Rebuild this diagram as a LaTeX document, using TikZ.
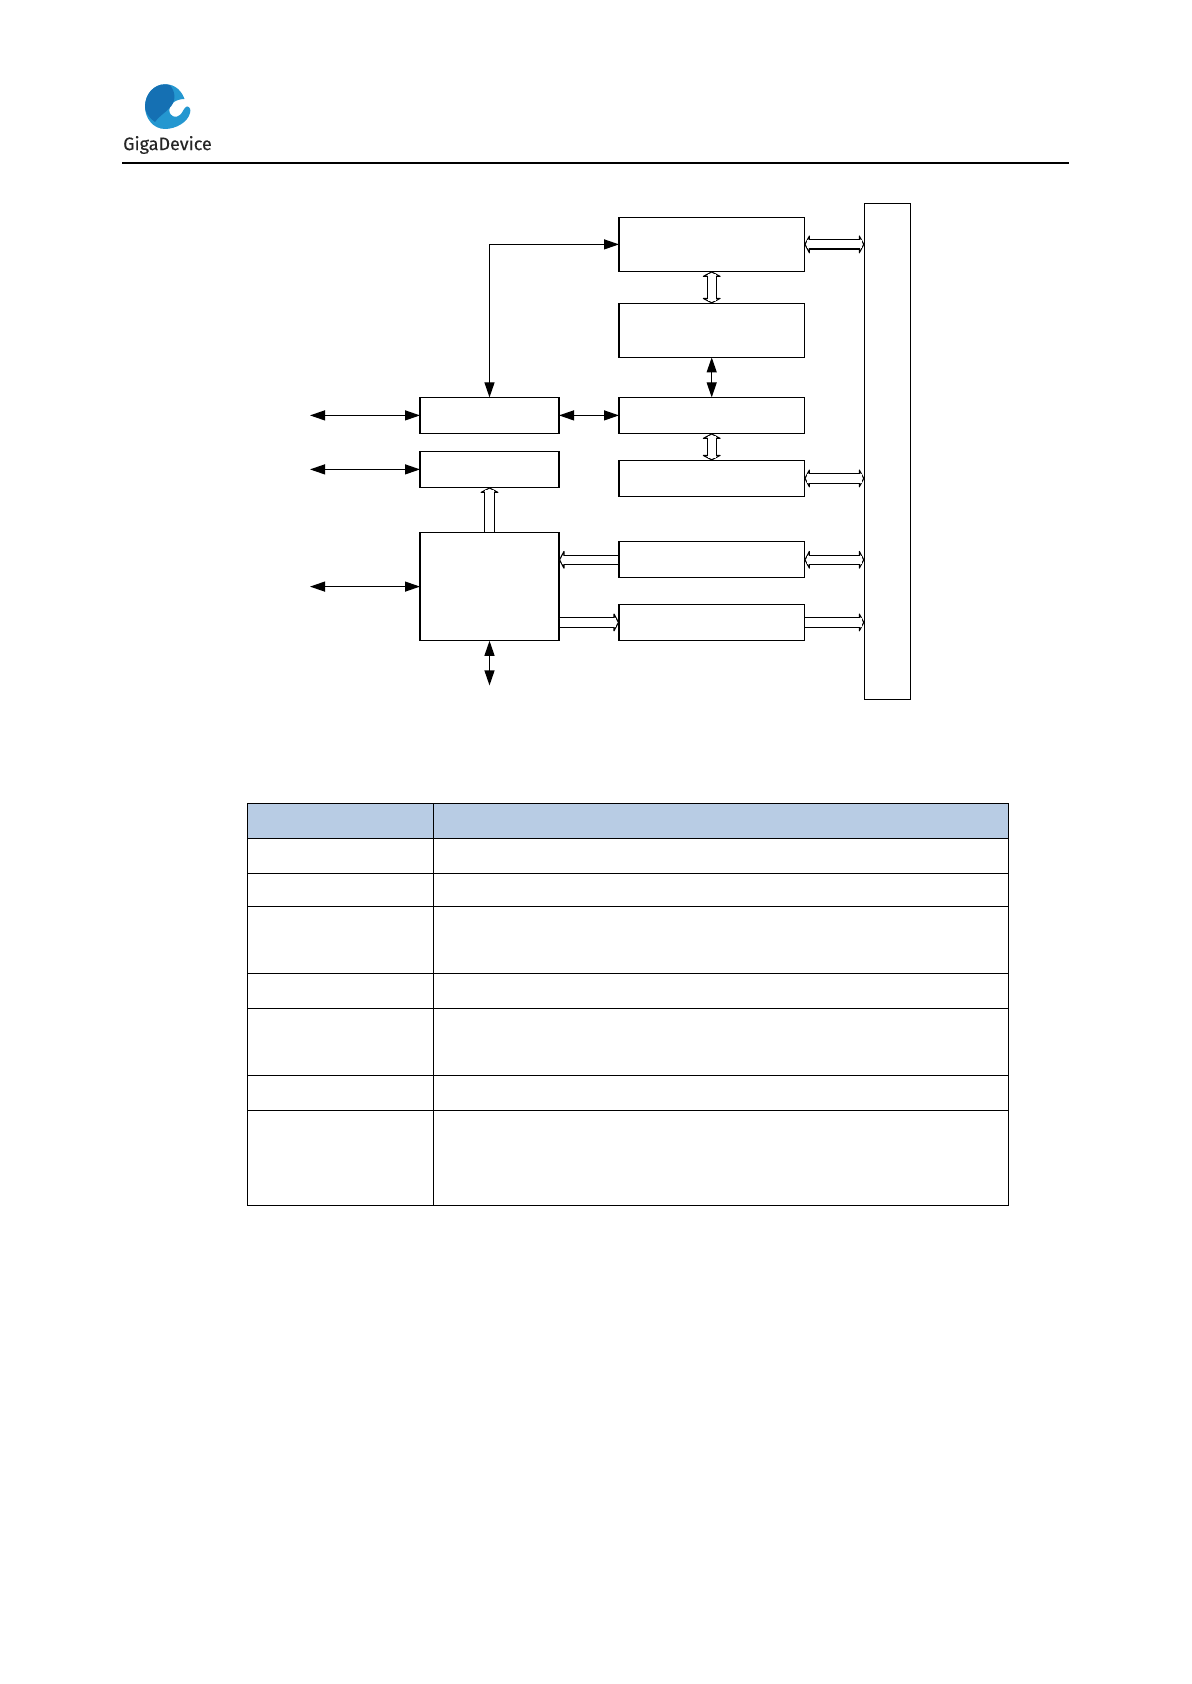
\documentclass[tikz,border=0pt]{standalone}
\usepackage{fontspec}
\usepackage{xcolor}
\usetikzlibrary{arrows.meta, positioning, calc}
\newfontfamily\logofont[FakeBold=0.3]{Fira Sans}
\definecolor{logodark}{HTML}{1570B3}
\definecolor{logolight}{HTML}{2497D0}
\definecolor{headblue}{HTML}{B8CCE4}

\begin{document}
\begin{tikzpicture}[
    x=0.5pt, y=-0.5pt,
    node distance=30pt,
    solidtip/.tip={Triangle[length=7.5pt,width=5pt]},
    bustip/.tip={Triangle[length=2.8pt,width=10.5pt,fill=white,line width=0.55pt,round]},
    block/.style={rectangle, draw, line width=0.6pt, inner sep=0pt, outer sep=0pt, minimum width=92.7pt, minimum height=18pt},
    tallblock/.style={block, minimum height=27pt},
    leftblock/.style={block, minimum width=69.5pt},
    arrow/.style={line width=0.6pt, solidtip-solidtip},
    bus/.style={line width=5.2pt, bustip-bustip,
      postaction={draw=white, line width=4.1pt, arrows=-, shorten >=1.3pt, shorten <=1.3pt}},
    onebus/.style={line width=5.2pt, -bustip,
      postaction={draw=white, line width=4.1pt, arrows=-, shorten >=1.3pt, shorten <=0.3pt}},
    grid/.style={line width=0.65pt}
  ]
  \useasboundingbox (0,0) rectangle (1191,1684);

  % page header
  \fill [logolight] (165,84.3) .. controls (176,84) and (182,92) .. (184.5,99) .. controls (176,99) and (169,104) .. (169.3,110) .. controls (169.5,117) and (176,118.5) .. (180,115) .. controls (183,112.5) and (184,107) .. (187,106.5) .. controls (190,106.5) and (191,110) .. (190,113) .. controls (188,122) and (176,129) .. (165,129) .. controls (153,129) and (145,118) .. (145,106.7) .. controls (145,94) and (154,84.3) .. (165,84.3) -- cycle;
  \fill [logodark] (170,85.3) .. controls (176,92) and (176,102) .. (169.5,108) .. controls (165,113) and (158,117) .. (155,122) .. controls (149,118) and (145,112) .. (145,106.7) .. controls (145,94) and (154,84.3) .. (165,84.3) .. controls (167,84.3) and (168.5,84.7) .. (170,85.3) -- cycle;
  \node (logotext) at (167.5,145) [font=\logofont\fontsize{9pt}{10pt}\selectfont, text=black!85, inner sep=0pt] {GigaDevice};
  \draw [line width=1pt] (122,163.5) -- (1069,163.5);

  % blocks
  \node (sys) at (887.5,451.3) [block, minimum width=23.2pt, minimum height=248pt] {};
  \node (b1) at (711.7,244.4) [tallblock] {};
  \node (b2) [tallblock, below=16pt of b1] {};
  \node (b3) [block, below=20pt of b2] {};
  \node (b4) [block, below=13.5pt of b3] {};
  \node (b5) [block, below=22.7pt of b4] {};
  \node (b6) [block, below=13.3pt of b5] {};
  \node (la) [leftblock, left=30pt of b3] {};
  \node (lb) [leftblock, below=9pt of la] {};
  \node (lc) [leftblock, below=22.5pt of lb, minimum height=54.2pt] {};

  \coordinate [left=55pt of la] (pa);
  \coordinate [left=55pt of lb] (pb);
  \coordinate [left=55pt of lc] (pc);
  \coordinate [below=22.3pt of lc] (pd);

  \draw [arrow] (pa) -- (la);
  \draw [arrow] (pb) -- (lb);
  \draw [arrow] (pc) -- (lc);
  \draw [arrow] (lc) -- (pd);
  \draw [arrow] (la) -- (b3);
  \draw [arrow] (b2) -- (b3);
  \draw [arrow] (la.north) |- (b1.west);

  \draw [bus] (b1) -- (b2);
  \draw [bus] (b3) -- (b4);
  \draw [bus] (b1.east) -- (b1.east -| sys.west);
  \draw [bus] (b4.east) -- (b4.east -| sys.west);
  \draw [bus] (b5.east) -- (b5.east -| sys.west);
  \draw [onebus] (b6.east) -- (b6.east -| sys.west);
  \draw [onebus] (b5.west) -- (b5.west -| lc.east);
  \draw [onebus] (b6.west -| lc.east) -- (b6.west);
  \draw [onebus] (lc) -- (lb);

  % table
  \fill [headblue] (247.5,803.7) rectangle (1008.5,838.5);
  \foreach \yy in {803.7,838.5,873.5,906.5,973.3,1008.3,1075.3,1110.3,1205.7}
    \draw [grid] (247,\yy) -- (1008.8,\yy);
  \foreach \xx in {247.5,433.5,1008.5}
    \draw [grid] (\xx,803.7) -- (\xx,1205.7);
\end{tikzpicture}
\end{document}
